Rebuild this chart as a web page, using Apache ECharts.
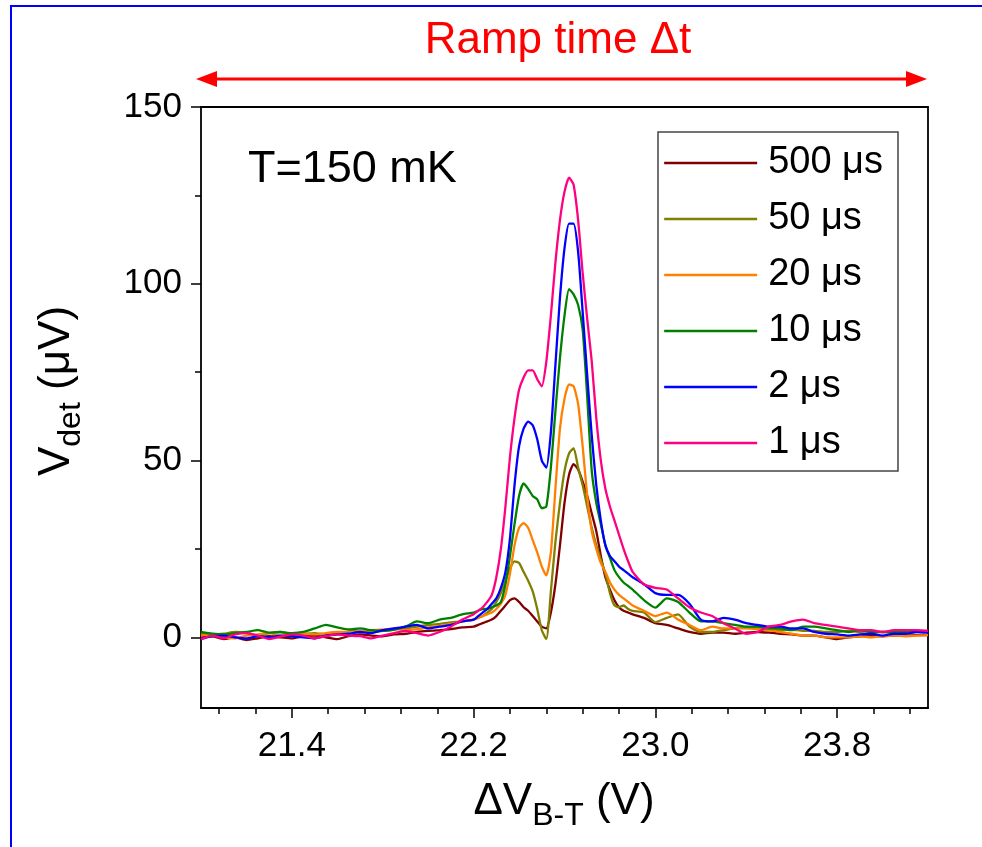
<!DOCTYPE html>
<html>
<head>
  <meta charset="utf-8">
  <script src="https://cdn.jsdelivr.net/npm/echarts@6/dist/echarts.min.js"></script>
  <style>
    html, body { margin: 0; padding: 0; background: #fff; }
    #main { width: 982px; height: 847px; }
  </style>
</head>
<body>
  <div id="main"></div>
  <script>
    // bias voltage grid (V): coarse on baseline, finer across the peak
    var xs = [21.00,21.05,21.10,21.15,21.20,21.25,21.30,21.35,21.40,21.45,21.50,21.55,21.60,21.65,21.70,21.75,21.80,21.85,21.90,21.95,22.00,22.05,22.10,22.15,
      22.20,22.22,22.24,22.26,22.28,22.30,22.32,22.34,22.36,22.38,22.40,22.42,22.44,22.46,22.48,22.50,22.52,22.54,22.56,22.58,22.60,22.62,22.64,22.66,22.68,22.70,22.72,22.74,22.76,22.78,22.80,22.82,22.84,22.86,22.88,22.90,
      22.95,23.00,23.05,23.10,23.15,23.20,23.25,23.30,23.35,23.40,23.45,23.50,23.55,23.60,23.65,23.70,23.75,23.80,23.85,23.90,23.95,24.00,24.05,24.10,24.15,24.20];

    var v500us = [0,0.3,-0.5,0,-0.8,-0.3,0.3,0,-0.3,0.3,0.5,0,-0.5,0.3,0.8,0.5,0.3,0.8,1,1.5,1.8,2,2.3,2.8,
      3,3.5,4,4.5,5,6,7.5,9,10.5,11,10,8.5,7.5,6,4.5,3,2.5,7,15,26,38,46,49,47.5,44,40,35,30,23,17,13.5,10.5,8.5,7.5,7,6.5,
      5.5,4,3.5,2.5,1.5,1,1.3,1.3,1,1.3,1.5,1.3,1,0.8,0.5,0.5,0,-0.5,0,0.3,0.5,0.3,0.5,0.5,0.6,0.6];
    var v50us = [1,0.8,1,1.5,1.2,0.5,1.2,1.5,0.8,1,1.2,0.8,1,1.5,1.8,1.5,1.8,2.2,2.5,3,3.5,3.8,4.2,4.5,
      5,5.5,6,7,8,10,12.5,16,19.5,21.5,21,18.5,16,13,8,2,-0.5,13,27,38,47,52,53.5,48,43,37,31,26,22,18,12.5,9,8.5,9,8,7.5,
      7,4.3,5.5,6.5,3,1.5,1.5,2,2.5,2.8,2.5,2,2,2.2,1.8,1.8,1.5,1.5,1.8,1.5,1.8,1.5,1.5,1.8,1.8,1.8];
    var v20us = [0.5,0.8,0,-0.3,0.5,0.8,1.2,0.5,0.8,1,0.8,1.2,1.5,1.5,1.8,2,2.2,2.5,2,2.3,2.8,3.2,3.8,4.5,
      5,5.5,6,6.5,7,8,9.5,12,18,26,31,32.3,31,27.5,24,20,17.5,24,42,59,67.5,71.5,71,66,54,40,30,25,21,18.5,15.5,13.5,12,11,10,9,
      7.5,6,7,5,3.5,2,3,2.5,2.5,2.5,2.3,2,1.5,1,0.5,0.5,0,0,0,0.3,0,0.3,0.5,0.3,0.5,0.6];
    var v10us = [1.5,1,0.8,1.2,1.5,2,1.3,1.5,1.2,1.5,2.5,3.5,2.8,2.2,2.5,2,1.8,2.2,3,4.5,4,5,5.5,6.5,
      7,7.5,8,8,8.5,9,10,15,23,32,40,43.5,42,40,39,36.5,37,48,64,79,91,98.5,97,94,87,68,47,38,32,26,22.5,19,17,15.5,14.5,13.5,
      10.5,8.4,11,10,7,4.5,4.5,4,3.5,3,3,2.5,2.5,2,3,3,2.5,2,1.5,2,1.5,1.5,1.5,1.5,1.8,1.7];
    var v2us = [-0.5,0.3,0.5,0,-0.3,0.3,0,0.5,0.3,0,-0.3,0.5,0.8,1,1.5,1.2,2,2.5,3,3.5,2.5,3,3.5,4.5,
      5,6,7,8,9.5,11,14,18.5,28,43,54,59,61,60,56,50,48,58,77,96,110,117,117,109,92,74,57,43,33,26,23,21.5,20,19,18,17,
      15,12.5,12,12,9.5,5,4.5,5.5,5,4,3.5,3,3,2.5,2.5,1.5,1,0.8,0.5,0.8,1,0.5,1,1,1.5,1.3];
    var v1us = [-0.5,0.5,-0.3,0.8,1.2,0.5,-0.5,0.2,0.8,0.5,-0.3,0.3,0.8,0.5,0.3,-0.3,0.5,1.2,1.8,1.2,0.5,1.5,3,5,
      6.5,7.5,8.5,10,12,17,25,37,51,62,70,73.5,75.5,75.5,73,71,78,91,106,118,126,130,128,118,103,90,78,62,50,42,37,33,29,25,21.5,18.5,
      15,14,13.5,11,8.5,7,6,4,2.5,1,1.5,3,3.5,4.5,5,4,3.5,3,2.5,2,2,1.5,2,2,2,1.8];

    var seriesNames = ['500 \u03bcs', '50 \u03bcs', '20 \u03bcs', '10 \u03bcs', '2 \u03bcs', '1 \u03bcs'];
    var seriesValues = [v500us, v50us, v20us, v10us, v2us, v1us];
    var seriesColors = ['#800000', '#808000', '#ff8000', '#008000', '#0000ff', '#ff0080'];

    var xMajor = [21.4, 22.2, 23.0, 23.8];
    var xMinor = [21.08, 21.24, 21.56, 21.72, 21.88, 22.04, 22.36, 22.52, 22.68, 22.84, 23.16, 23.32, 23.48, 23.64, 23.96, 24.12];
    var yMajor = [0, 50, 100, 150];
    var yMinor = [25, 75, 125];

    var FONT = "'Liberation Sans', Arial, sans-serif";
    var chart = echarts.init(document.getElementById('main'));

    var series = seriesNames.map(function (name, k) {
      return {
        name: name,
        type: 'line',
        xAxisIndex: 0,
        yAxisIndex: 0,
        symbol: 'none',
        smooth: 0.2,
        color: seriesColors[k],
        lineStyle: { width: 2.3, color: seriesColors[k] },
        data: xs.map(function (x, i) { return [x, seriesValues[k][i]]; })
      };
    });

    var axisLine = { show: true, onZero: false, lineStyle: { color: '#000', width: 1.8 } };
    var hiddenLine = { show: false, onZero: false };
    var xBase = { type: 'value', min: 21.0, max: 24.2, splitLine: { show: false } };
    var yBase = { type: 'value', min: -20, max: 150, splitLine: { show: false } };

    var option = {
      animation: false,
      backgroundColor: '#fff',
      grid: { left: 201, top: 107, width: 727, height: 601, containLabel: false },
      xAxis: [
        Object.assign({}, xBase, {
          position: 'bottom',
          axisLine: axisLine,
          axisTick: { show: true, inside: false, length: 10, customValues: xMajor, lineStyle: { color: '#000', width: 1.5 } },
          axisLabel: { show: true, customValues: xMajor, margin: 21, fontSize: 35, fontFamily: FONT, color: '#000',
            formatter: function (v) { return v.toFixed(1); } }
        }),
        Object.assign({}, xBase, {
          position: 'bottom',
          axisLine: hiddenLine,
          axisTick: { show: true, length: 6, customValues: xMinor, lineStyle: { color: '#000', width: 1.5 } },
          axisLabel: { show: false }
        }),
        Object.assign({}, xBase, {
          position: 'top',
          axisLine: axisLine,
          axisTick: { show: false },
          axisLabel: { show: false }
        })
      ],
      yAxis: [
        Object.assign({}, yBase, {
          position: 'left',
          axisLine: axisLine,
          axisTick: { show: true, length: 10, customValues: yMajor, lineStyle: { color: '#000', width: 1.5 } },
          axisLabel: { show: true, customValues: yMajor, margin: 19, fontSize: 35, fontFamily: FONT, color: '#000' }
        }),
        Object.assign({}, yBase, {
          position: 'left',
          axisLine: hiddenLine,
          axisTick: { show: true, length: 6, customValues: yMinor, lineStyle: { color: '#000', width: 1.5 } },
          axisLabel: { show: false }
        }),
        Object.assign({}, yBase, {
          position: 'right',
          axisLine: axisLine,
          axisTick: { show: false },
          axisLabel: { show: false }
        })
      ],
      legend: {
        orient: 'vertical',
        left: 663,
        top: 143,
        padding: 0,
        itemWidth: 93,
        itemHeight: 14,
        itemGap: 16,
        data: seriesNames,
        itemStyle: { opacity: 0 },
        lineStyle: { width: 2.3 },
        textStyle: { fontSize: 38, lineHeight: 40, fontFamily: FONT, color: '#000', padding: [0, 0, 0, 6] }
      },
      graphic: [
        // blue outer frame (runs off the right and bottom edges)
        { type: 'rect', shape: { x: 11, y: 6, width: 1100, height: 1000 },
          style: { fill: 'none', stroke: '#0000ff', lineWidth: 2 }, silent: true },
        // legend box
        { type: 'rect', shape: { x: 658, y: 132, width: 240, height: 339 },
          style: { fill: 'none', stroke: '#444', lineWidth: 1.5 }, silent: true, z: 10 },
        // ramp-time arrow
        { type: 'line', shape: { x1: 212, y1: 79, x2: 911, y2: 79 },
          style: { stroke: '#ff0000', lineWidth: 3 }, silent: true },
        { type: 'polygon', shape: { points: [[196, 79], [217, 71], [217, 87]] },
          style: { fill: '#ff0000' }, silent: true },
        { type: 'polygon', shape: { points: [[927, 79], [906, 71], [906, 87]] },
          style: { fill: '#ff0000' }, silent: true },
        { type: 'text', x: 558, y: 41,
          style: { text: 'Ramp time \u0394t', fill: '#ff0000', font: '44px ' + FONT, align: 'center', verticalAlign: 'middle' } },
        { type: 'text', x: 248, y: 170, z: 10,
          style: { text: 'T=150 mK', fill: '#000', font: '45px ' + FONT, align: 'left', verticalAlign: 'middle' } },
        // x axis name
        { type: 'text', x: 564, y: 810,
          style: {
            text: '{m|\u0394V}{s|B-T}{m| (V)}', align: 'center', verticalAlign: 'middle', fill: '#000',
            rich: {
              m: { fontSize: 44, lineHeight: 44, fontFamily: FONT, padding: [0, 0, 8, 0], verticalAlign: 'bottom' },
              s: { fontSize: 32, lineHeight: 32, fontFamily: FONT, verticalAlign: 'bottom' }
            }
          } },
        // y axis name
        { type: 'text', x: 65, y: 391, rotation: Math.PI / 2,
          style: {
            text: '{m|V}{s|det}{m| (\u03bcV)}', align: 'center', verticalAlign: 'middle', fill: '#000',
            rich: {
              m: { fontSize: 44, lineHeight: 44, fontFamily: FONT, padding: [0, 0, 8, 0], verticalAlign: 'bottom' },
              s: { fontSize: 32, lineHeight: 32, fontFamily: FONT, verticalAlign: 'bottom' }
            }
          } }
      ],
      series: series
    };

    chart.setOption(option);
  </script>
</body>
</html>
